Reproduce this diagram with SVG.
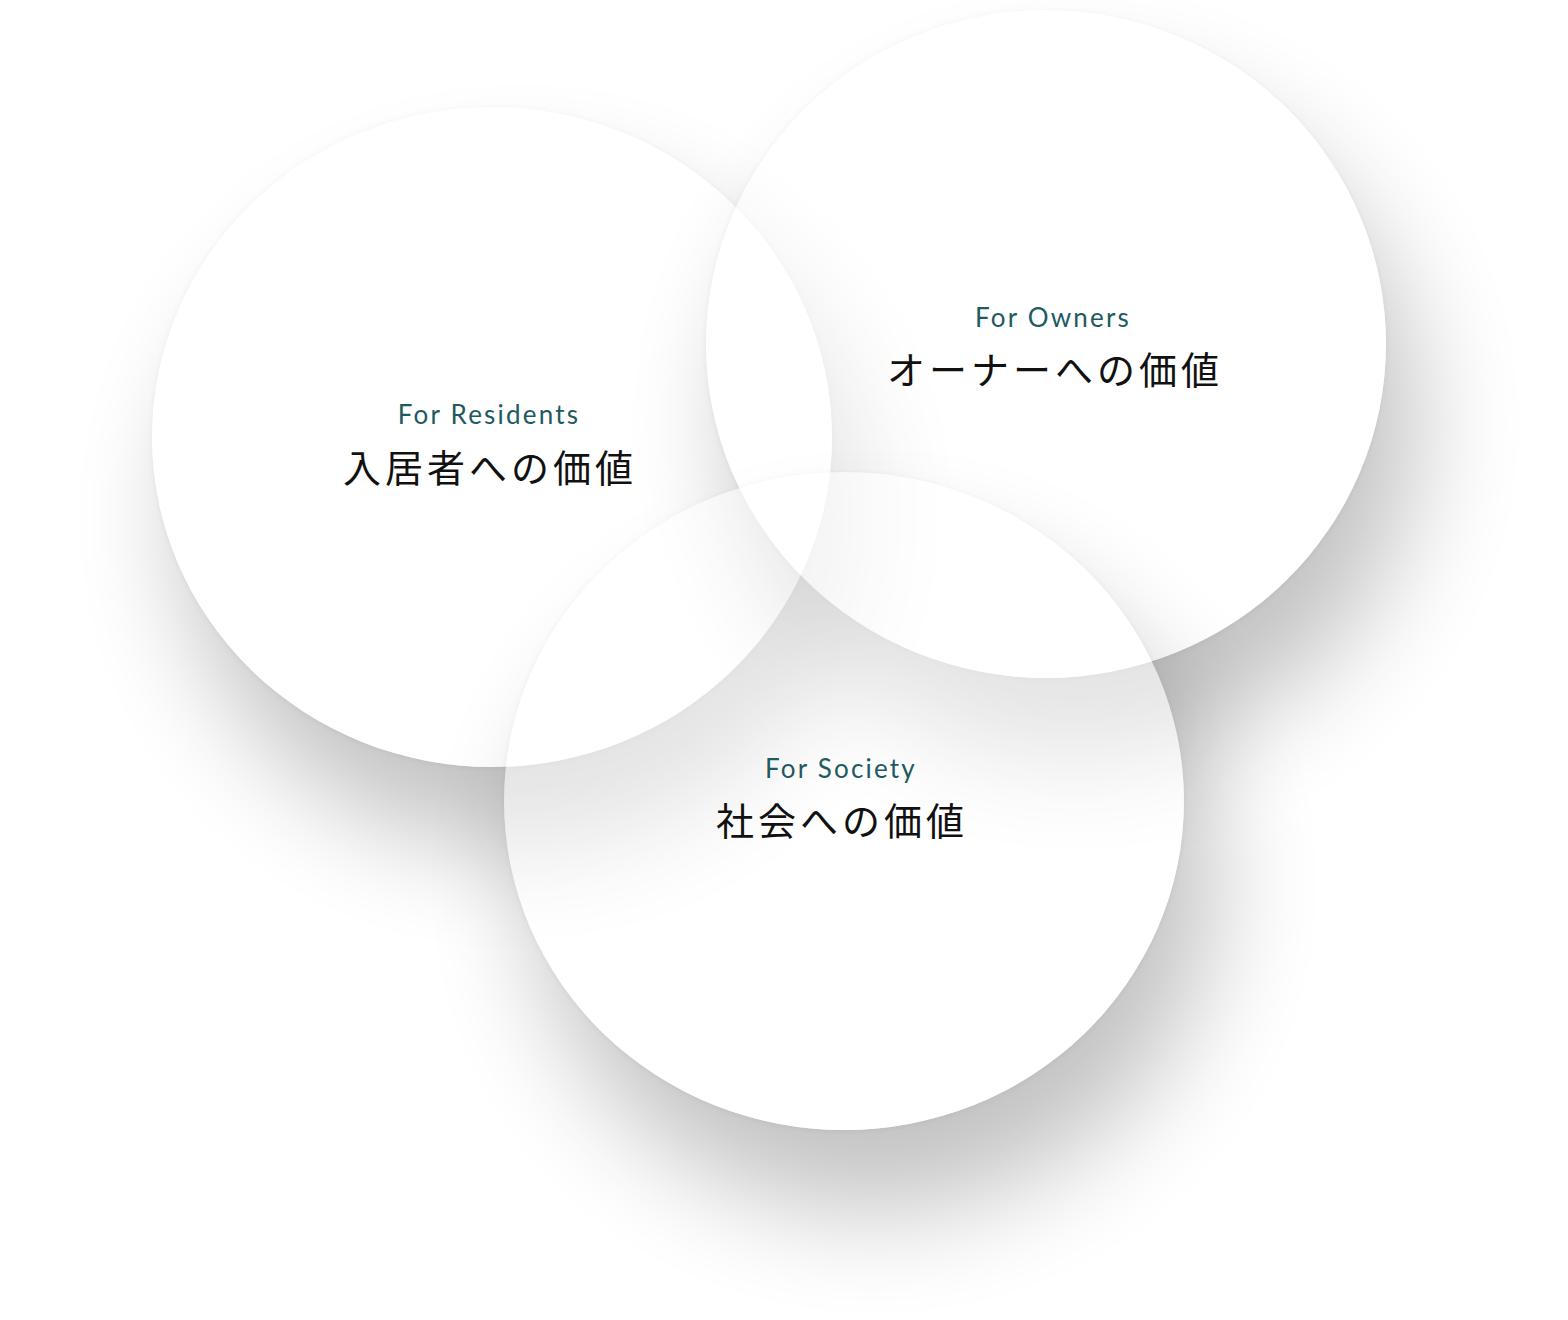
<svg xmlns="http://www.w3.org/2000/svg" width="1568" height="1320" viewBox="0 0 1568 1320">
  <defs>
    <style>
      .en { font-family: Lato, "Open Sans", sans-serif; font-size: 26px; fill: #1e5a5f; letter-spacing: 2.2px; text-anchor: middle; }
      .ja { font-family: "Noto Sans CJK JP", sans-serif; font-size: 38px; fill: #111111; letter-spacing: 4px; text-anchor: middle; }
      .disc { fill: #ffffff; fill-opacity: 0.55; }
      .sh { fill: #000000; }
    </style>
    <filter id="blurBig" x="-50%" y="-50%" width="200%" height="200%">
      <feGaussianBlur stdDeviation="55"/>
    </filter>
    <filter id="blurSmall" x="-10%" y="-10%" width="120%" height="120%">
      <feGaussianBlur stdDeviation="3"/>
    </filter>
    <mask id="m1" maskUnits="userSpaceOnUse" x="0" y="0" width="1568" height="1320">
      <rect width="1568" height="1320" fill="#fff"/>
      <ellipse cx="492" cy="437" rx="340" ry="330" fill="#000"/>
    </mask>
    <mask id="m2" maskUnits="userSpaceOnUse" x="0" y="0" width="1568" height="1320">
      <rect width="1568" height="1320" fill="#fff"/>
      <ellipse cx="1046" cy="344" rx="340" ry="334" fill="#000"/>
    </mask>
    <mask id="m3" maskUnits="userSpaceOnUse" x="0" y="0" width="1568" height="1320">
      <rect width="1568" height="1320" fill="#fff"/>
      <ellipse cx="844" cy="801" rx="340" ry="329" fill="#000"/>
    </mask>
  </defs>
  <rect width="1568" height="1320" fill="#ffffff"/>

  <g id="node-residents">
    <g mask="url(#m1)">
      <ellipse class="sh" cx="522" cy="517" rx="340" ry="330" filter="url(#blurBig)" opacity="0.24"/>
      <ellipse class="sh" cx="492" cy="438" rx="340" ry="330" filter="url(#blurSmall)" opacity="0.05"/>
    </g>
    <ellipse class="disc" cx="492" cy="437" rx="340" ry="330"/>
  </g>

  <g id="node-owners">
    <g mask="url(#m2)">
      <ellipse class="sh" cx="1076" cy="424" rx="340" ry="334" filter="url(#blurBig)" opacity="0.24"/>
      <ellipse class="sh" cx="1046" cy="345" rx="340" ry="334" filter="url(#blurSmall)" opacity="0.05"/>
    </g>
    <ellipse class="disc" cx="1046" cy="344" rx="340" ry="334"/>
  </g>

  <g id="node-society">
    <g mask="url(#m3)">
      <ellipse class="sh" cx="874" cy="881" rx="340" ry="329" filter="url(#blurBig)" opacity="0.24"/>
      <ellipse class="sh" cx="844" cy="802" rx="340" ry="329" filter="url(#blurSmall)" opacity="0.05"/>
    </g>
    <ellipse class="disc" cx="844" cy="801" rx="340" ry="329"/>
  </g>

  <g id="connectors"></g>

  <g id="labels">
    <text class="en" x="489" y="424">For Residents</text>
    <text class="ja" x="490" y="482">入居者への価値</text>
    <text class="en" x="1053" y="327">For Owners</text>
    <text class="ja" x="1055" y="384">オーナーへの価値</text>
    <text class="en" x="841" y="778">For Society</text>
    <text class="ja" x="842" y="835">社会への価値</text>
  </g>
</svg>
